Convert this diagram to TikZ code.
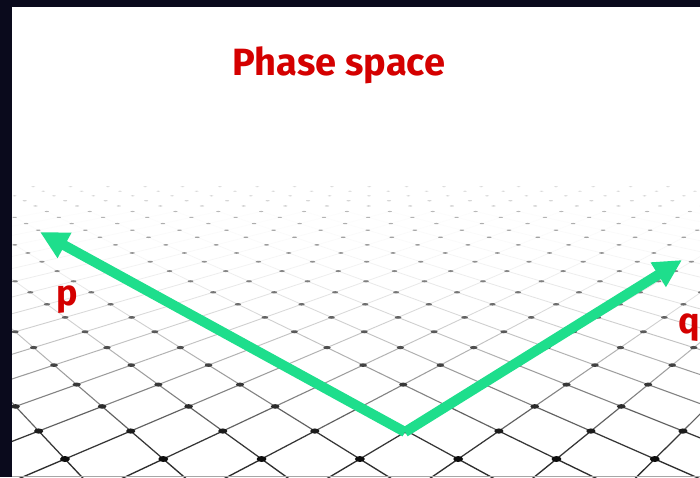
\documentclass[tikz,border=0pt]{standalone}
\usepackage{fontspec}
\setsansfont{Fira Sans}
\usetikzlibrary{arrows.meta}
\definecolor{slidered}{RGB}{212,0,0}
\definecolor{axisgrn}{RGB}{30,222,140}
\definecolor{frame}{RGB}{10,10,28}
\tikzset{
  ttl/.style={font=\sffamily\bfseries\fontsize{38}{40}\selectfont,text=slidered,inner sep=0pt},
  lbl/.style={font=\sffamily\bfseries\fontsize{36}{38}\selectfont,text=slidered,inner sep=0pt},
  axis/.style={-{Triangle[length=28pt,width=27pt]},line width=10pt,axisgrn},
}

\begin{document}
\begin{tikzpicture}[x=1pt,y=-1pt]
  \useasboundingbox (0,0) rectangle (700,477);
  \fill[white] (0,0) rectangle (700,477);
  \begin{scope}
    \clip (12,7) rectangle (700,477);
    % diagonal lattice lines, darker towards the viewer
    \foreach \fam in {1,-1}{
      \foreach \k in {-24,...,5}{
        \foreach \t in {-1,-0.5,...,12}{
          \pgfmathsetmacro\za{\t+7.35}
          \pgfmathsetmacro\zb{\t+7.85}
          \pgfmathsetmacro\xa{375+722.5*((\fam*(\k+\t)-0.154)/\za)}
          \pgfmathsetmacro\xb{375+722.5*((\fam*(\k+\t+0.5)-0.154)/\zb)}
          \pgfmathsetmacro\ya{20+3226.7/\za}
          \pgfmathsetmacro\yb{20+3226.7/\zb}
          \pgfmathtruncatemacro\dd{min(82,90*exp(-(\t+0.25)/2.1))}
          \pgfmathsetmacro\lw{9.5/(\t+7.6)}
          \draw[line width=\lw pt,black!\dd] (\xa,\ya) -- (\xb,\yb);
        }
      }
    }
    % lattice points
    \foreach \n in {0,...,26}{
      \pgfmathsetmacro\z{\n/2+6.35}
      \pgfmathsetmacro\sy{20+3226.7/\z}
      \pgfmathtruncatemacro\dd{min(100,95*exp(-(\z-7.35)/8))}
      \pgfmathsetmacro\rx{36.1/\z}
      \pgfmathsetmacro\ry{161.3/(\z*\z)}
      \foreach \k in {-12,...,12}{
        \pgfmathsetmacro\sx{375+722.5*((\k-0.154+0.5*mod(\n,2))/\z)}
        \fill[black!\dd] (\sx,\sy) ellipse [x radius=\rx pt,y radius=\ry pt];
      }
    }
  \end{scope}
  \fill[frame] (0,0) rectangle (700,7);
  \fill[frame] (0,0) rectangle (12,477);
  \draw[black!35,line width=0.8pt] (12,476.6) -- (700,476.6);
  \coordinate (o) at (405,432);
  \coordinate (pend) at (40,232);
  \coordinate (qend) at (682,260);
  \draw[axis] (o) -- (pend);
  \draw[axis] (o) -- (qend);
  \node[ttl,anchor=base] (title) at (339,75) {Phase space};
  \node[lbl,anchor=base] (plabel) at (67,305) {p};
  \node[lbl,anchor=base east] (qlabel) at (700,333) {q};
\end{tikzpicture}
\end{document}
